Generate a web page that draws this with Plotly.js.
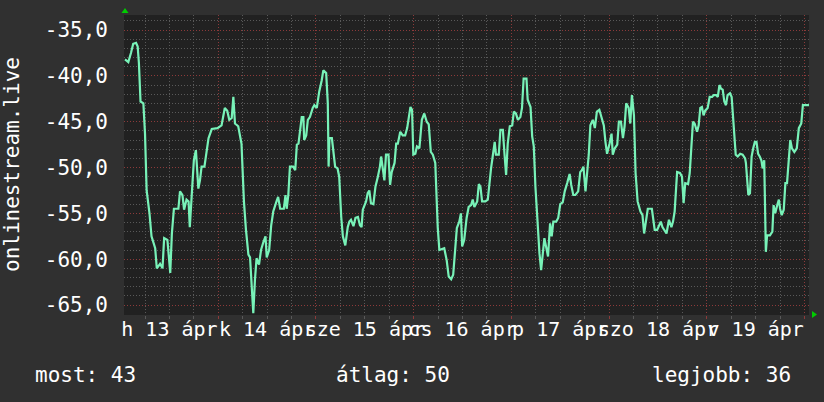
<!DOCTYPE html>
<html><head><meta charset="utf-8">
<script src="https://cdn.plot.ly/plotly-3.0.1.min.js"></script>
<style>html,body{margin:0;padding:0;background:#303030;}#chart{width:824px;height:402px;}</style>
</head><body><div id="chart"></div>
<script>
// hours since 2020-04-13 00:00 (h 13 ápr)
const hours = [
1.08,1.9,2.55,3.1,3.8,4.2,4.5,4.9,5.6,6.0,6.4,7.1,7.6,8.5,8.9,9.7,10.3,10.7,11.5,11.8,12.2,12.6,13.1,14.2,14.6,15.2,15.6,16.2,16.7,17.0,17.5,18.0,18.5,19.1,19.5,19.9,20.6,21.0,21.6,22.4,23.8,24.8,25.6,26.2,26.7,27.3,27.7,28.1,28.9,29.7,30.3,30.8,31.4,31.8,32.2,32.6,33.0,33.4,34.0,34.5,35.1,35.6,35.9,36.5,37.0,37.5,38.3,38.7,39.2,40.1,40.5,40.8,41.2,41.6,42.4,42.9,43.3,
43.7,44.5,44.9,45.1,45.6,46.0,46.5,47.2,47.6,48.2,48.8,49.4,49.8,50.5,50.9,51.1,51.3,51.9,52.3,52.7,53.3,53.7,54.2,54.6,55.2,55.8,56.2,56.6,57.2,57.7,58.3,58.8,59.2,59.5,60.3,60.7,61.1,61.5,62.1,62.6,63.2,63.7,64.0,64.4,64.8,65.2,65.8,66.2,66.6,67.3,67.7,68.1,68.7,69.3,69.9,70.4,70.8,71.2,71.6,71.9,72.4,72.8,73.4,74.0,74.6,75.2,75.7,76.2,76.7,77.3,77.9,78.3,79.5,80.1,80.6,81.2,81.7,82.2,82.6,83.2,83.6,83.9,84.4,85.0,85.5,86.1,86.5,86.9,
87.6,88.0,88.4,88.8,89.6,90.2,90.6,91.0,91.4,91.9,92.2,92.9,93.3,93.9,94.3,94.7,95.1,95.6,96.2,96.6,97.1,97.6,98.2,98.6,99.0,99.7,100.0,100.7,101.1,101.5,101.9,102.5,102.9,103.3,103.7,104.1,104.5,105.0,105.5,105.9,106.3,107.0,107.5,108.0,108.6,109.1,109.7,110.3,110.7,111.2,111.7,112.4,112.9,113.3,113.7,114.2,114.6,115.0,115.4,116.0,116.5,117.0,117.6,118.1,118.7,119.1,119.5,120.1,120.6,120.9,121.4,122.0,122.4,122.9,123.4,123.8,124.2,124.8,125.2,125.6,126.1,126.5,127.0,127.7,128.2,128.6,129.1,129.5,130.5,
131.2,131.8,132.7,133.1,133.6,134.1,134.7,135.3,135.7,136.1,136.7,137.4,137.9,138.3,138.7,139.4,139.8,140.2,140.6,141.0,141.6,142.0,142.4,142.8,143.2,143.6,144.2,144.7,145.3,145.7,146.3,146.7,147.1,147.5,147.9,148.3,148.7,149.1,149.7,150.1,150.5,151.1,151.6,152.2,152.8,153.4,153.6,153.9,154.2,154.6,155.0,155.4,155.8,156.2,156.6,157.0,157.4,157.7,158.1,158.5,158.8,159.5,160.1,160.4,160.8,161.3,161.7,162.0,162.4,162.9,163.3,163.7,164.1,164.5,164.9,165.5,166.1,166.6,167.2,167.6,169.1
];
const values = [
-38.2,-38.5,-37.5,-36.5,-36.4,-36.8,-38.6,-42.8,-43,-46.3,-52.5,-55,-57.5,-58.8,-61,-60.5,-61,-57.7,-57.9,-59.4,-61.5,-57.2,-54.5,-54.5,-52.6,-53,-54.6,-53.5,-53.7,-56.5,-53,-49.2,-48.1,-52.3,-51.4,-49.9,-49.9,-48.5,-46.8,-45.8,-45.7,-45.4,-43.5,-43.8,-44.8,-44.6,-42.3,-45.2,-45.5,-47.4,-53.7,-56.8,-59.5,-59.8,-63.7,-65.9,-62.3,-59.9,-60.6,-59,-58.1,-57.5,-59.8,-59,-56.3,-54.8,-53.7,-53.2,-54.5,-54.5,-53,-54.5,-53,-49.9,-49.9,-50.3,-47.5,
-47.4,-44.5,-44.5,-47,-46.5,-44.8,-44.5,-43.5,-43.2,-43.5,-41.7,-40.5,-39.4,-39.7,-43,-49.9,-46.8,-46.8,-48.3,-49.9,-50.1,-51,-55.4,-57.5,-58.5,-56.5,-55.9,-55.7,-56.4,-55.5,-55.4,-56.3,-56.5,-54.6,-53.7,-52.8,-52.5,-53.9,-54,-52.1,-51,-49.9,-48.8,-50.1,-51.4,-48.6,-48.6,-51.9,-50.5,-49.5,-47.4,-47.4,-46.1,-46.5,-46.5,-45.7,-44.5,-43.4,-43.7,-48.6,-48.5,-47.7,-47.9,-44.8,-44.1,-45,-45.3,-48.3,-48.6,-49.5,-56.5,-59,-58.8,-60.1,-61.9,-62.2,-61.7,-58.8,-56.6,-55.9,-55,-58.6,-57.9,-55.5,-54.3,-54.1,-53.5,-54.3,
-53.7,-51.8,-52.1,-53.7,-53.7,-53.5,-51.5,-50.1,-48.8,-47.2,-48.6,-48.6,-45.9,-45.9,-48.5,-50.8,-47.4,-45.5,-45.4,-43.9,-44.1,-44.8,-44.5,-43.5,-40.3,-40.3,-42.6,-43.4,-46.6,-47.7,-52.1,-57,-59.4,-61.2,-59.7,-57.7,-58.6,-59.7,-56.1,-57.5,-55.9,-55.9,-55.5,-54,-53.8,-52.6,-51.7,-50.7,-51.9,-53,-53,-52.6,-50.5,-50.3,-49.9,-52.6,-50.6,-48.6,-45.4,-44.8,-45.7,-43.9,-43.7,-44.6,-45.4,-47.2,-48.5,-47.4,-46.3,-48.6,-47.9,-47.5,-45,-45,-46.8,-45.5,-43,-43.5,-45.2,-42.1,-44.3,-50.6,-53.7,-54.8,-55.2,-57.2,-55.9,-54.5,-54.5,
-56.8,-56.8,-55.9,-56.5,-56.8,-57.2,-55.7,-56.5,-55.9,-54.8,-50.5,-50.6,-51,-53.9,-51.7,-51.8,-50.6,-47.5,-45,-45.2,-46.1,-45.4,-43.5,-43.4,-44.3,-43.8,-43.5,-42.3,-42.3,-42.1,-42.1,-42.3,-41,-41.4,-41.5,-42.8,-43.2,-42.1,-41.9,-42.3,-45.2,-48.6,-48.8,-48.5,-48.6,-49,-49.5,-51,-53,-52.8,-48.8,-47.9,-47.2,-47.2,-48.5,-48.8,-49.2,-50.1,-49.2,-59.2,-57.4,-57.4,-57,-54.1,-55,-54.1,-53.5,-54.5,-55.2,-54.6,-51.7,-51.7,-48.8,-47,-47.9,-48.3,-47.9,-45.7,-45.2,-43.2,-43.2
];
const dayTickHours = [12, 36, 60, 84, 108, 132, 156];
const dayLabels = ["h 13 ápr", "k 14 ápr", "sze 15 ápr", "cs 16 ápr", "p 17 ápr", "szo 18 ápr", "v 19 ápr"];
const yTickVals = [-35, -40, -45, -50, -55, -60, -65];
const yTickText = ["-35,0", "-40,0", "-45,0", "-50,0", "-55,0", "-60,0", "-65,0"];
const seriesName = "onlinestream.live";
const legendTexts = ["most: 43", "átlag: 50", "legjobb: 36"];
const legendX = [-0.1328, 0.3066, 0.7679];

const mono = "DejaVu Sans Mono";
const redGrid = "#8c3a3a";
const grayGrid = "#595959";
const dash = "1px,2px";
const xRange = [0.84, 169.1];

const traces = [
  {x: hours, y: values, type: "scatter", mode: "lines", xaxis: "x", yaxis: "y",
   line: {color: "#78f2b8", width: 2.2}, hoverinfo: "skip", name: seriesName},
  {x: [dayTickHours[0]], y: [null], type: "scatter", mode: "lines", xaxis: "x2", yaxis: "y", hoverinfo: "skip"}
];

const annotations = legendTexts.map((t, i) => ({
  text: t, xref: "paper", yref: "paper", x: legendX[i], y: -0.2, xanchor: "left", yanchor: "middle",
  showarrow: false, font: {family: mono, size: 21, color: "#ffffff"}
}));
annotations.push({
  text: seriesName, xref: "paper", yref: "paper", x: -0.1635, y: 0.5, xanchor: "center", yanchor: "middle",
  textangle: -90, showarrow: false, font: {family: mono, size: 21, color: "#ffffff"}
});

const layout = {
  width: 824, height: 402,
  margin: {l: 124, r: 15, t: 15, b: 87, pad: 0},
  paper_bgcolor: "#303030", plot_bgcolor: "#212121",
  showlegend: false,
  font: {family: mono, size: 20, color: "#ffffff"},
  xaxis: {
    range: xRange, tickmode: "linear", tick0: 0, dtick: 24, showticklabels: false,
    showgrid: true, gridcolor: redGrid, griddash: dash, gridwidth: 1, zeroline: false,
    ticks: "outside", ticklen: 3, tickcolor: redGrid, showline: false,
    minor: {tickmode: "linear", tick0: 0, dtick: 6, showgrid: true, gridcolor: grayGrid, griddash: dash,
            ticks: "outside", ticklen: 3, tickcolor: grayGrid}
  },
  xaxis2: {
    overlaying: "x", anchor: "y", side: "bottom", range: xRange,
    tickmode: "array", tickvals: dayTickHours, ticktext: dayLabels, tickangle: 0,
    showgrid: false, zeroline: false, ticks: "", showline: false,
    tickfont: {family: mono, size: 20, color: "#ffffff"}
  },
  yaxis: {
    range: [-66.09, -33.36], tickmode: "array", tickvals: yTickVals, ticktext: yTickText,
    showgrid: true, gridcolor: redGrid, griddash: dash, gridwidth: 1, zeroline: false,
    ticks: "", ticklabelstandoff: 15, showline: false,
    tickfont: {family: mono, size: 21, color: "#ffffff"},
    minor: {tickmode: "linear", tick0: 0, dtick: 1, showgrid: true, gridcolor: grayGrid, griddash: dash}
  },
  annotations: annotations,
  shapes: [
    {type: "path", xref: "paper", yref: "paper", path: "M 0.00146 1.0233 L -0.00365 1.0067 L 0.00657 1.0067 Z",
     fillcolor: "#00cc00", line: {width: 0}},
    {type: "path", xref: "paper", yref: "paper", path: "M 1.01168 0.00167 L 1.00438 0.01333 L 1.00438 -0.01 Z",
     fillcolor: "#00cc00", line: {width: 0}}
  ]
};

Plotly.newPlot("chart", traces, layout, {staticPlot: true, displayModeBar: false});
</script>
</body></html>
